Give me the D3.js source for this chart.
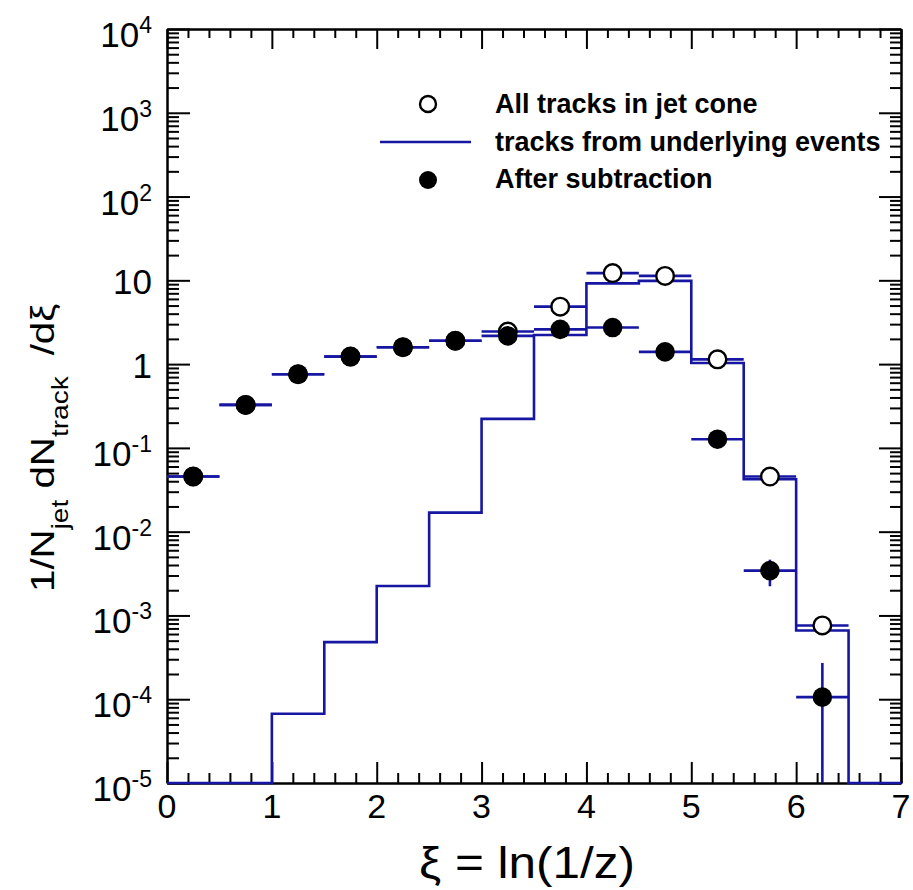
<!DOCTYPE html>
<html>
<head>
<meta charset="utf-8">
<script src="https://cdn.jsdelivr.net/npm/d3@7"></script>
<style>
  body { margin: 0; background: #fff; }
  text { font-family: "Liberation Sans", Arial, Helvetica, sans-serif; }
</style>
</head>
<body>
<svg id="chart" width="913" height="890"></svg>
<script>
// Histogram bin edges in xi = ln(1/z)
const binEdges = [0, 0.5, 1, 1.5, 2, 2.5, 3, 3.5, 4, 4.5, 5, 5.5, 6, 6.5, 7];
// Tracks from underlying events, per bin (null = below the plotted range)
const ueValues = [null, null, 6.7e-5, 4.8e-4, 2.25e-3, 0.0169, 0.222, 2.23, 9.2, 9.85, 1.03, 0.0423, 6.6e-4, null];
// Measured points, one per bin centre
const pointXi = [0.25, 0.75, 1.25, 1.75, 2.25, 2.75, 3.25, 3.75, 4.25, 4.75, 5.25, 5.75, 6.25];
const allTracks = [0.0455, 0.326, 0.757, 1.23, 1.59, 1.9, 2.45, 4.85, 12.2, 11.3, 1.14, 0.0455, 7.6e-4];
const afterSub = [0.0455, 0.326, 0.757, 1.23, 1.59, 1.9, 2.17, 2.6, 2.73, 1.4, 0.127, 3.43e-3, 1.06e-4];
const afterSubErr = [0, 0, 0, 0, 0, 0, 0, 0, 0, 0, 0, 1.2e-3, 1.65e-4];

// Axis ticks and labels
const xTicks = [0, 1, 2, 3, 4, 5, 6, 7];
const xTickLabels = ["0", "1", "2", "3", "4", "5", "6", "7"];
const yTicks = [1e-5, 1e-4, 1e-3, 1e-2, 1e-1, 1, 10, 100, 1e3, 1e4];
const yTickBase = ["10", "10", "10", "10", "10", "1", "10", "10", "10", "10"];
const yTickExp = ["-5", "-4", "-3", "-2", "-1", "", "", "2", "3", "4"];

const legendLabels = ["All tracks in jet cone", "tracks from underlying events", "After subtraction"];

const BLUE = "#1616a2";
const svg = d3.select("#chart");

const x = d3.scaleLinear().domain([0, 7]).range([167, 901]);
const y = d3.scaleLog().domain([1e-5, 1e4]).range([783, 29]).clamp(true);
const [xl, xr] = x.range();
const [yb, yt] = y.range();

// minor tick positions
const xMinor = d3.range(0, 35).map(i => i / 5).filter(v => Math.abs(v - Math.round(v)) > 1e-6);
const yMinor = [];
for (let e = -5; e < 4; e++) for (let m = 2; m <= 9; m++) yMinor.push(m * Math.pow(10, e));

function styleAxis(g) {
  g.selectAll("path, line").attr("stroke", "#000").attr("stroke-width", 2);
  g.selectAll("text").remove();
}

// bottom
svg.append("g").attr("transform", `translate(0,${yb})`)
  .call(d3.axisBottom(x).tickValues(xMinor).tickSize(-10).tickSizeOuter(0)).call(styleAxis);
svg.append("g").attr("transform", `translate(0,${yb})`)
  .call(d3.axisBottom(x).tickValues(xTicks).tickSize(-21).tickSizeOuter(0)).call(styleAxis);
// top
svg.append("g").attr("transform", `translate(0,${yt})`)
  .call(d3.axisTop(x).tickValues(xMinor).tickSize(-9).tickSizeOuter(0)).call(styleAxis);
svg.append("g").attr("transform", `translate(0,${yt})`)
  .call(d3.axisTop(x).tickValues(xTicks).tickSize(-20).tickSizeOuter(0)).call(styleAxis);
// left
svg.append("g").attr("transform", `translate(${xl},0)`)
  .call(d3.axisLeft(y).tickValues(yMinor).tickSize(-12).tickSizeOuter(0)).call(styleAxis);
svg.append("g").attr("transform", `translate(${xl},0)`)
  .call(d3.axisLeft(y).tickValues(yTicks).tickSize(-23).tickSizeOuter(0)).call(styleAxis);
// right
svg.append("g").attr("transform", `translate(${xr},0)`)
  .call(d3.axisRight(y).tickValues(yMinor).tickSize(-11).tickSizeOuter(0)).call(styleAxis);
svg.append("g").attr("transform", `translate(${xr},0)`)
  .call(d3.axisRight(y).tickValues(yTicks).tickSize(-22).tickSizeOuter(0)).call(styleAxis);

// x tick labels
svg.append("g").selectAll("text").data(xTicks).join("text")
  .attr("x", d => x(d)).attr("y", 818)
  .attr("text-anchor", "middle").attr("font-size", 34).attr("fill", "#000")
  .text((d, i) => xTickLabels[i]);

// y tick labels with exponents
const yl = svg.append("g").selectAll("text").data(yTicks).join("text")
  .attr("x", 152)
  .attr("y", (d, i) => y(d) + (yTickExp[i] ? 18 : 14))
  .attr("text-anchor", "end").attr("fill", "#000").attr("font-size", 35);
yl.append("tspan").text((d, i) => yTickBase[i]);
yl.filter((d, i) => yTickExp[i] !== "")
  .append("tspan").attr("font-size", 23).attr("dy", -14)
  .text(d => yTickExp[yTicks.indexOf(d)]);

// axis titles
svg.append("text").attr("x", 527).attr("y", 878).attr("text-anchor", "middle")
  .attr("font-size", 44).attr("fill", "#000")
  .attr("textLength", 216).attr("lengthAdjust", "spacingAndGlyphs")
  .text("ξ = ln(1/z)");

const yt0 = svg.append("text").attr("transform", "translate(54,592) rotate(-90) scale(1.22,1)")
  .attr("font-size", 33).attr("fill", "#000");
yt0.append("tspan").text("1/N");
yt0.append("tspan").attr("font-size", 23).attr("dy", 14).text("jet");
yt0.append("tspan").attr("dy", -14).text(" dN");
yt0.append("tspan").attr("font-size", 23).attr("dy", 14).text("track");
yt0.append("tspan").attr("dy", -14).attr("dx", 8).text(" /dξ");

// underlying-event histogram
const histPts = [];
ueValues.forEach((v, i) => {
  const yy = v == null ? yb : y(v);
  histPts.push([x(binEdges[i]), yy], [x(binEdges[i + 1]), yy]);
});
svg.append("path").attr("d", d3.line()(histPts))
  .attr("fill", "none").attr("stroke", BLUE).attr("stroke-width", 2.6);

// horizontal bin-width bars for both point sets
function hbars(vals) {
  svg.append("g").selectAll("line").data(vals).join("line")
    .attr("x1", (d, i) => x(binEdges[i])).attr("x2", (d, i) => x(binEdges[i + 1]))
    .attr("y1", d => y(d)).attr("y2", d => y(d))
    .attr("stroke", BLUE).attr("stroke-width", 2.6);
}
hbars(allTracks);
hbars(afterSub);

// vertical error bars for subtracted points
const errIdx = d3.range(afterSub.length).filter(i => afterSubErr[i] > 0);
svg.append("g").selectAll("line").data(errIdx).join("line")
  .attr("x1", i => x(pointXi[i])).attr("x2", i => x(pointXi[i]))
  .attr("y1", i => y(afterSub[i] + afterSubErr[i]))
  .attr("y2", i => { const lo = afterSub[i] - afterSubErr[i]; return lo > 0 ? y(lo) : yb; })
  .attr("stroke", BLUE).attr("stroke-width", 2.6);

// open circles: all tracks
svg.append("g").selectAll("circle").data(allTracks).join("circle")
  .attr("cx", (d, i) => x(pointXi[i])).attr("cy", d => y(d)).attr("r", 8.8)
  .attr("fill", "#fff").attr("stroke", "#000").attr("stroke-width", 2.4);
// filled circles: after subtraction
svg.append("g").selectAll("circle").data(afterSub).join("circle")
  .attr("cx", (d, i) => x(pointXi[i])).attr("cy", d => y(d)).attr("r", 9.8)
  .attr("fill", "#000");

// legend
const lg = svg.append("g");
lg.append("circle").attr("cx", 428).attr("cy", 104).attr("r", 8)
  .attr("fill", "#fff").attr("stroke", "#000").attr("stroke-width", 2.4);
lg.append("line").attr("x1", 380).attr("x2", 471).attr("y1", 142).attr("y2", 142)
  .attr("stroke", BLUE).attr("stroke-width", 2.6);
lg.append("circle").attr("cx", 428).attr("cy", 180).attr("r", 9).attr("fill", "#000");
lg.selectAll("text").data(legendLabels).join("text")
  .attr("x", 495).attr("y", (d, i) => [113, 151, 188][i])
  .attr("font-size", 27).attr("font-weight", "bold").attr("fill", "#000")
  .text(d => d);
</script>
</body>
</html>
